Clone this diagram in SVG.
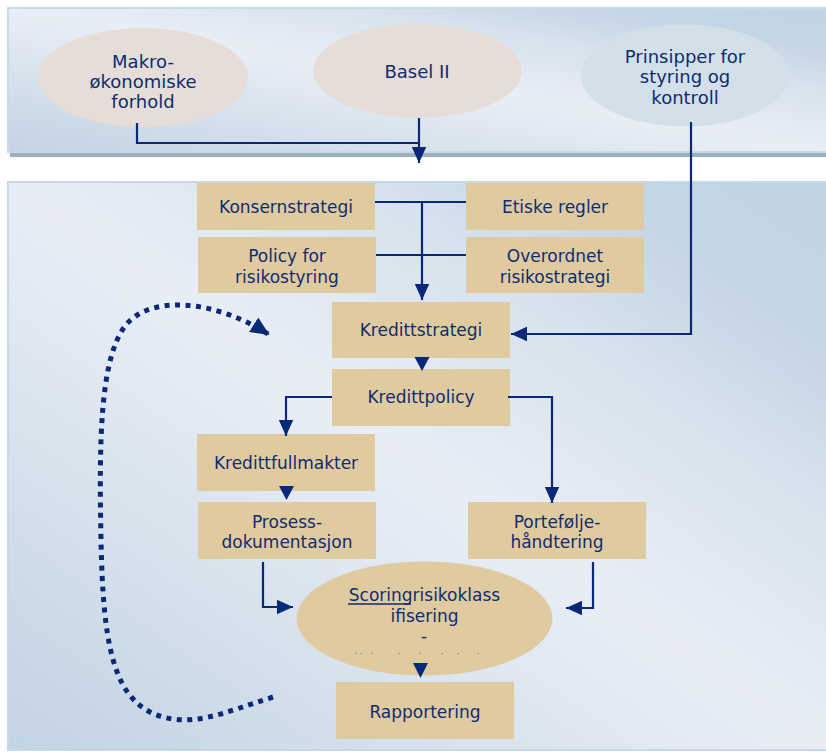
<svg xmlns="http://www.w3.org/2000/svg" width="826" height="753" viewBox="0 0 826 753">
<defs>
<linearGradient id="bg" x1="0" y1="1" x2="1" y2="0">
<stop offset="0" stop-color="#c2d3e3"/>
<stop offset="0.25" stop-color="#d5e1ec"/>
<stop offset="0.5" stop-color="#e9eef6"/>
<stop offset="0.72" stop-color="#d6e2ed"/>
<stop offset="0.86" stop-color="#c4d5e5"/>
<stop offset="1" stop-color="#c2d3e3"/>
</linearGradient>
<marker id="arr" viewBox="0 0 10 10" refX="10" refY="5" markerUnits="userSpaceOnUse" markerWidth="16" markerHeight="16" orient="auto">
<path d="M0,0.5 L10,5 L0,9.5 z" fill="#0a2878"/>
</marker>
<marker id="arrd" viewBox="0 0 10 10" refX="9" refY="5" markerUnits="userSpaceOnUse" markerWidth="19" markerHeight="19" orient="auto">
<path d="M0,0.5 L10,5 L0,9.5 z" fill="#0a2878"/>
</marker>
</defs>
<style>
.box{fill:#e0cba1}
.t{font-family:"DejaVu Sans",Verdana,sans-serif;font-size:17px;fill:#0f2b70;text-anchor:middle}
.tt{font-family:"DejaVu Sans",Verdana,sans-serif;font-size:18px;fill:#0f2b70;text-anchor:middle}
.ln{fill:none;stroke:#0a2878;stroke-width:2.2}
.tri{fill:#0a2878}
</style>
<rect width="826" height="753" fill="#ffffff"/>
<g id="top-panel">
<rect x="10" y="152" width="816" height="5" fill="#9cb0c1"/>
<rect x="8" y="8" width="820" height="144" fill="url(#bg)" stroke="#c9d9e8" stroke-width="2"/>
</g>
<g id="bottom-panel">
<rect x="8" y="182" width="820" height="568" fill="url(#bg)" stroke="#c6d7e7" stroke-width="2"/>
</g>
<g id="makro">
<ellipse cx="143" cy="77.5" rx="105" ry="49.5" fill="#e6ddd9"/>
<text class="tt" x="143" y="68">Makro-</text>
<text class="tt" x="143" y="88">økonomiske</text>
<text class="tt" x="143" y="108">forhold</text>
</g>
<g id="basel">
<ellipse cx="417.5" cy="71" rx="104.5" ry="47" fill="#e6ddd8"/>
<text class="tt" x="417" y="78">Basel II</text>
</g>
<g id="prinsipper">
<ellipse cx="685" cy="75.5" rx="104" ry="51" fill="#d3e0ea"/>
<text class="tt" x="685" y="63">Prinsipper for</text>
<text class="tt" x="685" y="83">styring og</text>
<text class="tt" x="685" y="104">kontroll</text>
</g>
<g id="konsernstrategi">
<rect class="box" x="197" y="183" width="178" height="47"/>
<text class="t" x="286" y="213">Konsernstrategi</text>
</g>
<g id="etiske">
<rect class="box" x="466" y="183" width="178" height="47"/>
<text class="t" x="555" y="213">Etiske regler</text>
</g>
<g id="policy">
<rect class="box" x="198" y="237" width="178" height="56"/>
<text class="t" x="287" y="262">Policy for</text>
<text class="t" x="287" y="283">risikostyring</text>
</g>
<g id="overordnet">
<rect class="box" x="466" y="237" width="178" height="56"/>
<text class="t" x="555" y="262">Overordnet</text>
<text class="t" x="555" y="283">risikostrategi</text>
</g>
<g id="kredittstrategi">
<rect class="box" x="332" y="302" width="178" height="56"/>
<text class="t" x="421" y="336">Kredittstrategi</text>
</g>
<g id="kredittpolicy">
<rect class="box" x="332" y="369" width="178" height="57"/>
<text class="t" x="421" y="403">Kredittpolicy</text>
</g>
<g id="kredittfullmakter">
<rect class="box" x="197" y="434" width="178" height="57"/>
<text class="t" x="286" y="469">Kredittfullmakter</text>
</g>
<g id="prosess">
<rect class="box" x="198" y="502" width="178" height="57"/>
<text class="t" x="287" y="528">Prosess-</text>
<text class="t" x="287" y="548">dokumentasjon</text>
</g>
<g id="portefolje">
<rect class="box" x="468" y="502" width="178" height="57"/>
<text class="t" x="557" y="528">Portefølje-</text>
<text class="t" x="557" y="548">håndtering</text>
</g>
<g id="scoring">
<ellipse cx="424.5" cy="618.5" rx="128" ry="57" fill="#e0cba1"/>
<text class="t" x="424.5" y="601">Scoringrisikoklass</text>
<line x1="348" y1="604" x2="411" y2="604" stroke="#0f2b70" stroke-width="1.3"/>
<text class="t" x="424.5" y="622">ifisering</text>
<text class="t" x="424" y="642">-</text>
<text font-family="DejaVu Sans,sans-serif" font-size="7" fill="#0f2b70" x="355 360 371 398 419 441 457 477" y="654">........</text>
</g>
<g id="rapportering">
<rect class="box" x="336" y="682" width="178" height="57"/>
<text class="t" x="425" y="718">Rapportering</text>
</g>
<g id="connectors">
<path class="ln" d="M137 123 V143 H419"/>
<path class="ln" d="M419 118 V163" marker-end="url(#arr)"/>
<path class="ln" d="M691 122 V334 H511" marker-end="url(#arr)"/>
<path class="ln" d="M375 202 H466"/>
<path class="ln" d="M376 255 H466"/>
<path class="ln" d="M422 202 V300" marker-end="url(#arr)"/>
<polygon class="tri" points="414.5,357 429.5,357 422,371"/>
<path class="ln" d="M332 397 H286 V436" marker-end="url(#arr)"/>
<polygon class="tri" points="279,486 294,486 286.5,500"/>
<path class="ln" d="M508 397 H552 V503" marker-end="url(#arr)"/>
<path class="ln" d="M263 562 V607 H293" marker-end="url(#arr)"/>
<path class="ln" d="M593 562 V608 H566" marker-end="url(#arr)"/>
<polygon class="tri" points="413,663 428,663 420.5,678"/>
<path d="M273 697 C 225 712 190 730 152 713 C 112 694 103 640 101 540 C 99 440 100 360 125 326 C 150 294 215 300 268 334" fill="none" stroke="#0a2878" stroke-width="5" stroke-dasharray="5 5.5" marker-end="url(#arrd)"/>
</g>
</svg>
